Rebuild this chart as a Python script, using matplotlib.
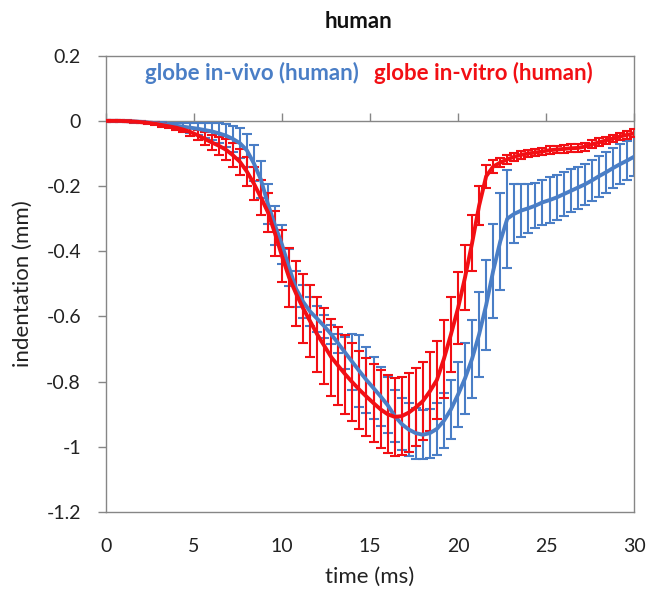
import matplotlib
matplotlib.use("Agg")
import matplotlib.pyplot as plt
from matplotlib.ticker import NullFormatter

plt.rcParams['font.family'] = ['Lato', 'DejaVu Sans']

# time axis (ms)
time_ms = [round(0.4 * i, 1) for i in range(76)]

# globe in-vitro (human): mean indentation (mm) and standard deviation
vitro_mean = [0.000, 0.000, 0.000, -0.001, -0.002, -0.004, -0.006, -0.009, -0.013, -0.017,
              -0.021, -0.027, -0.034, -0.044, -0.055, -0.066, -0.076, -0.088, -0.105, -0.125,
              -0.155, -0.192, -0.235, -0.280, -0.345, -0.415, -0.480, -0.530, -0.575, -0.615,
              -0.655, -0.690, -0.725, -0.752, -0.778, -0.802, -0.825, -0.846, -0.866, -0.885,
              -0.900, -0.908, -0.906, -0.895, -0.879, -0.860, -0.830, -0.795, -0.730, -0.655,
              -0.575, -0.480, -0.375, -0.260, -0.170, -0.140, -0.128, -0.118, -0.110, -0.104,
              -0.100, -0.097, -0.094, -0.090, -0.088, -0.086, -0.084, -0.083, -0.079, -0.072,
              -0.066, -0.060, -0.054, -0.048, -0.043, -0.038]
vitro_sd = [0.003, 0.003, 0.003, 0.003, 0.003, 0.004, 0.004, 0.005, 0.005, 0.005,
            0.006, 0.008, 0.012, 0.016, 0.020, 0.024, 0.028, 0.032, 0.036, 0.040,
            0.045, 0.050, 0.055, 0.060, 0.070, 0.080, 0.090, 0.100, 0.105, 0.110,
            0.115, 0.117, 0.118, 0.119, 0.120, 0.120, 0.120, 0.120, 0.120, 0.120,
            0.120, 0.120, 0.120, 0.120, 0.120, 0.120, 0.120, 0.120, 0.120, 0.115,
            0.110, 0.100, 0.085, 0.060, 0.035, 0.020, 0.015, 0.014, 0.013, 0.013,
            0.012, 0.012, 0.012, 0.012, 0.012, 0.012, 0.012, 0.012, 0.012, 0.012,
            0.012, 0.012, 0.012, 0.012, 0.012, 0.012]

# globe in-vivo (human): mean indentation (mm) and standard deviation
vivo_mean = [0.000, 0.000, 0.000, -0.001, -0.002, -0.003, -0.005, -0.007, -0.009, -0.012,
             -0.015, -0.018, -0.021, -0.024, -0.028, -0.032, -0.038, -0.045, -0.055, -0.068,
             -0.090, -0.130, -0.180, -0.255, -0.320, -0.380, -0.450, -0.515, -0.555, -0.585,
             -0.607, -0.630, -0.655, -0.683, -0.712, -0.740, -0.768, -0.795, -0.820, -0.845,
             -0.872, -0.905, -0.930, -0.947, -0.958, -0.963, -0.958, -0.945, -0.920, -0.885,
             -0.840, -0.790, -0.730, -0.655, -0.565, -0.460, -0.370, -0.300, -0.285, -0.275,
             -0.268, -0.260, -0.250, -0.243, -0.235, -0.225, -0.215, -0.205, -0.195, -0.183,
             -0.170, -0.158, -0.145, -0.133, -0.122, -0.110]
vivo_sd = [0.002, 0.002, 0.002, 0.002, 0.002, 0.002, 0.003, 0.004, 0.005, 0.007,
           0.009, 0.012, 0.015, 0.019, 0.023, 0.027, 0.031, 0.035, 0.040, 0.045,
           0.050, 0.055, 0.058, 0.060, 0.060, 0.060, 0.058, 0.055, 0.050, 0.045,
           0.040, 0.035, 0.030, 0.030, 0.050, 0.085, 0.110, 0.100, 0.095, 0.090,
           0.085, 0.080, 0.080, 0.080, 0.078, 0.075, 0.075, 0.080, 0.085, 0.090,
           0.100, 0.110, 0.120, 0.130, 0.138, 0.145, 0.150, 0.150, 0.090, 0.080,
           0.075, 0.070, 0.070, 0.070, 0.068, 0.067, 0.066, 0.065, 0.064, 0.063,
           0.062, 0.062, 0.061, 0.061, 0.060, 0.060]

x_ticks = [0, 5, 10, 15, 20, 25, 30]
y_ticks = [0.2, 0, -0.2, -0.4, -0.6, -0.8, -1, -1.2]
y_labels = ['0.2', '0', '-0.2', '-0.4', '-0.6', '-0.8', '-1', '-1.2']

title = 'human'
label_vivo = 'globe in-vivo (human)'
label_vitro = 'globe in-vitro (human)'

blue = '#4A7EC6'
red = '#F20F14'
gray = '#868686'
dark = '#222222'

fig = plt.figure(figsize=(6.49, 5.93), dpi=100)
ax = fig.add_axes([106/649, 1 - 512/593, (634-106)/649, (512-55.7)/593])

# horizontal axis line at zero
ax.axhline(0, color=gray, lw=1.0, zorder=1)

ax.errorbar(time_ms, vivo_mean, yerr=vivo_sd, fmt='none', ecolor=blue,
            elinewidth=1.5, capsize=3.5, capthick=1.5, zorder=2)
ax.errorbar(time_ms, vitro_mean, yerr=vitro_sd, fmt='none', ecolor=red,
            elinewidth=1.5, capsize=3.5, capthick=1.5, zorder=3)
ax.plot(time_ms, vivo_mean, color=blue, lw=2.8, zorder=4)
ax.plot(time_ms, vitro_mean, color=red, lw=2.8, zorder=5)

ax.set_xlim(0, 30)
ax.set_ylim(-1.2, 0.2)
ax.set_xticks(x_ticks)
ax.set_yticks(y_ticks)
ax.set_yticklabels(y_labels)

for s in ax.spines.values():
    s.set_color(gray)
    s.set_linewidth(1.0)

ax.tick_params(axis='y', direction='out', length=6, width=1, color=gray,
               pad=12, labelsize=14, labelcolor=dark)
ax.tick_params(axis='x', length=0, pad=19, labelsize=14, labelcolor=dark)

# tick marks on the zero line
zero_frac = (0 - (-1.2)) / (0.2 - (-1.2))
sec = ax.secondary_xaxis(zero_frac)
sec.set_xticks(x_ticks)
sec.xaxis.set_major_formatter(NullFormatter())
sec.tick_params(axis='x', direction='out', length=6, width=1, color=gray)
for k, sp in sec.spines.items():
    sp.set_visible(False)

ax.set_xlabel('time (ms)', fontsize=16, color=dark, labelpad=8)
ax.set_ylabel('indentation (mm)', fontsize=16, color=dark, labelpad=10)

fig.text(359/649, 1 - 22/593, title, ha='center', va='center',
         fontsize=16, fontweight='bold', color='#111111')
ax.text(0.074, 0.963, label_vivo, transform=ax.transAxes, ha='left', va='center',
        fontsize=16, fontweight='bold', color=blue)
ax.text(0.508, 0.963, label_vitro, transform=ax.transAxes, ha='left', va='center',
        fontsize=16, fontweight='bold', color=red)

fig.savefig('out.png', dpi=100)
